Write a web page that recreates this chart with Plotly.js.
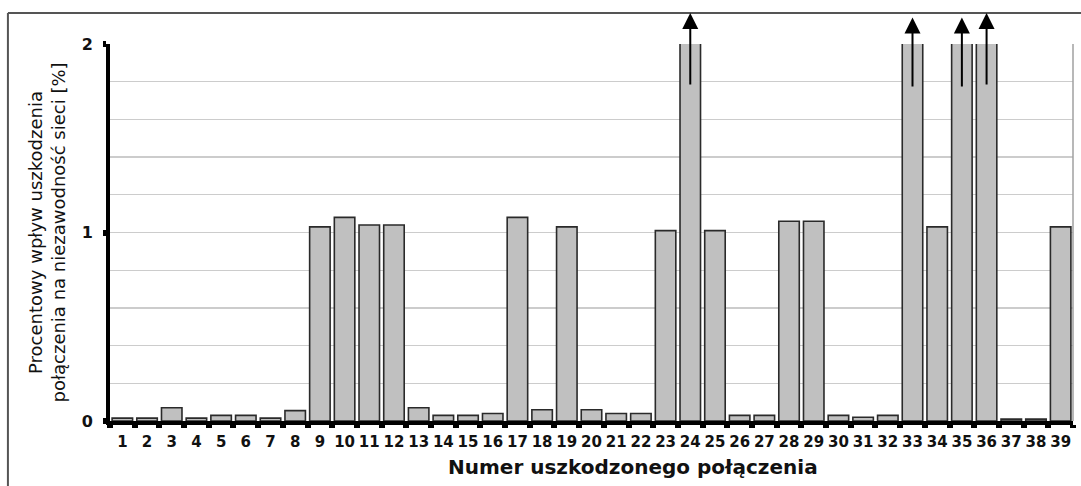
<!DOCTYPE html>
<html>
<head>
<meta charset="utf-8">
<script src="https://cdn.plot.ly/plotly-3.0.1.min.js"></script>
<style>
html,body{margin:0;padding:0;background:#fff;}
#chart{width:1081px;height:486px;}
</style>
</head>
<body>
<div id="chart"></div>
<script>
// Connection numbers (categories)
const categories = ["1","2","3","4","5","6","7","8","9","10","11","12","13","14","15","16","17","18","19","20",
  "21","22","23","24","25","26","27","28","29","30","31","32","33","34","35","36","37","38","39"];
// Percentage impact values (bars 24, 33, 35, 36 exceed the axis top of 2)
const values = [0.015,0.015,0.07,0.015,0.03,0.03,0.015,0.055,1.03,1.08,1.04,1.04,0.07,0.03,0.03,0.04,1.08,0.06,1.03,0.06,
  0.04,0.04,1.01,2.5,1.01,0.03,0.03,1.06,1.06,0.03,0.02,0.03,2.5,1.03,2.5,2.5,0.01,0.01,1.03];
// Off-scale bars marked with arrows
const arrowBars = ["24","33","35","36"];
const arrowTip = [2.165,2.14,2.14,2.165];
const arrowTail = [1.777,1.767,1.767,1.777];

const yTickVals = [0,1,2];
const yTickText = ["0","1","2"];

const xTitle = "Numer uszkodzonego połączenia";
const yTitle = "Procentowy wpływ uszkodzenia<br>połączenia na niezawodność sieci [%]";

const annotations = arrowBars.map((c,i)=>{
  const idx = categories.indexOf(c);
  return {
    x:idx, y:arrowTip[i], ax:idx, ay:arrowTail[i],
    xref:'x', yref:'y', axref:'x', ayref:'y',
    showarrow:true, arrowhead:2, arrowsize:1.6, arrowwidth:2, arrowcolor:'#000', text:''
  };
});
// x-axis title (placed slightly right of centre, as in the original)
annotations.push({
  text:xTitle, showarrow:false, xref:'paper', yref:'paper',
  x:0.543, y:-0.122, xanchor:'center', yanchor:'middle',
  font:{size:20, family:'DejaVu Sans, sans-serif', weight:'bold', color:'#111'}
});

const trace = {
  type:'bar', x:categories, y:values,
  marker:{color:'#c0c0c0', line:{color:'#2a2a2a', width:1.6}},
  hoverinfo:'none'
};

const layout = {
  width:1081, height:486,
  margin:{l:110, r:8, t:44, b:65},
  paper_bgcolor:'#fff', plot_bgcolor:'#fff',
  bargap:0.17,
  showlegend:false,
  font:{family:'DejaVu Sans, sans-serif', color:'#111'},
  xaxis:{
    type:'category',
    showline:true, linecolor:'#000', linewidth:4,
    ticks:'outside', tickson:'boundaries', ticklen:3, tickwidth:6, tickcolor:'#000',
    tickangle:0,
    tickfont:{size:15, family:'DejaVu Sans, sans-serif', weight:'bold', color:'#111'},
    ticklabelstandoff:4,
    showgrid:false, zeroline:false, fixedrange:true
  },
  yaxis:{
    range:[0,2],
    tickvals:yTickVals, ticktext:yTickText,
    showline:true, linecolor:'#000', linewidth:4,
    ticks:'outside', ticklen:3, tickwidth:6, tickcolor:'#000',
    tickfont:{size:16, family:'DejaVu Sans, sans-serif', weight:'bold', color:'#111'},
    ticklabelstandoff:7,
    showgrid:true, gridcolor:'#cccccc', gridwidth:1.3,
    minor:{dtick:0.2, showgrid:true, gridcolor:'#cccccc', gridwidth:1.3, ticks:''},
    zeroline:false, fixedrange:true,
    title:{text:yTitle, font:{size:18, family:'DejaVu Sans, sans-serif', color:'#111'}, standoff:12}
  },
  shapes:[
    {type:'line', xref:'paper', yref:'paper', x0:1, x1:1, y0:0, y1:1, line:{color:'#a0a0a0', width:1.5}},
    {type:'line', xref:'paper', yref:'paper', x0:-0.106, x1:1.02, y0:1.082, y1:1.082, line:{color:'#555', width:2}},
    {type:'line', xref:'paper', yref:'paper', x0:-0.106, x1:-0.106, y0:1.082, y1:-0.2, line:{color:'#555', width:2}}
  ],
  annotations:annotations
};

Plotly.newPlot('chart',[trace],layout,{displayModeBar:false, staticPlot:true});
</script>
</body>
</html>
